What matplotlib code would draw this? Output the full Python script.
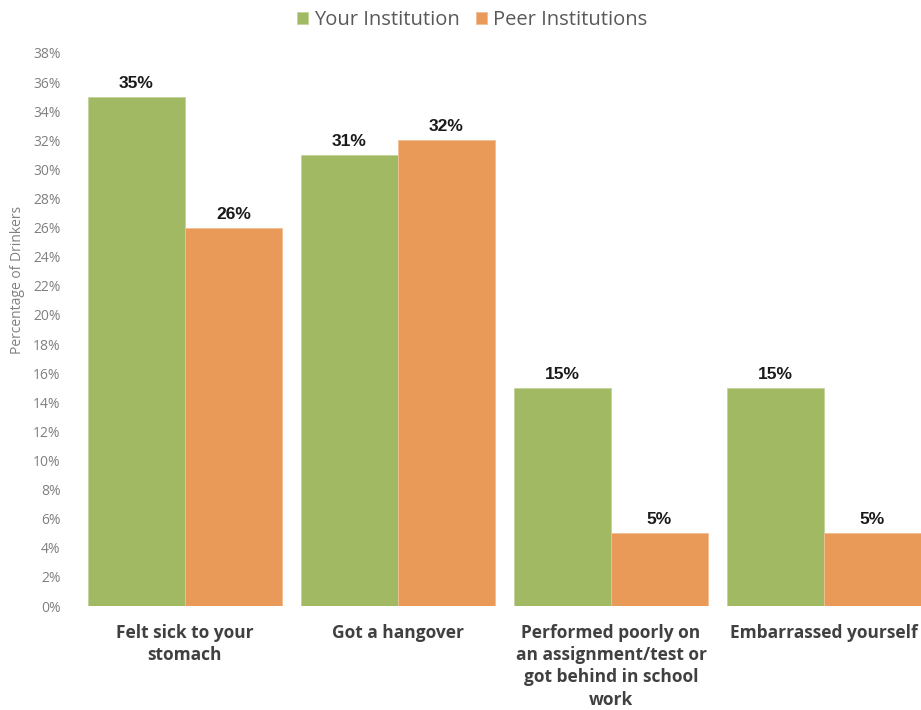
import matplotlib.pyplot as plt
import numpy as np

categories = [
    "Felt sick to your\nstomach",
    "Got a hangover",
    "Performed poorly on\nan assignment/test or\ngot behind in school\nwork",
    "Embarrassed yourself",
]
your_institution = [35, 31, 15, 15]
peer_institutions = [26, 32, 5, 5]
series_names = ["Your Institution", "Peer Institutions"]
y_ticks = list(range(0, 39, 2))

GREEN = "#A2B964"
ORANGE = "#EA9A58"
TICK_GRAY = "#808080"
LABEL_DARK = "#404040"

W, H = 921, 710
fig = plt.figure(figsize=(W / 100, H / 100), dpi=100)

# plot area in pixels: x from group edge at 78.5, y from 0% (606) to 38% (53)
left_px, right_px = 78.5, 930.5
bottom_px, top_px = 606, 53
ax = fig.add_axes([left_px / W, 1 - bottom_px / H,
                   (right_px - left_px) / W, (bottom_px - top_px) / H])

x = np.arange(len(categories))
bw = 97 / 213
b1 = ax.bar(x - bw / 2, your_institution, bw, color=GREEN,
            edgecolor="#C4D39A", linewidth=0.6, label=series_names[0])
b2 = ax.bar(x + bw / 2, peer_institutions, bw, color=ORANGE,
            edgecolor="#F2BE94", linewidth=0.6, label=series_names[1])

for bars, vals in ((b1, your_institution), (b2, peer_institutions)):
    for rect, v in zip(bars, vals):
        ax.text(rect.get_x() + rect.get_width() / 2, v + 0.4, f"{v}%",
                ha="center", va="bottom", fontsize=12.5, fontweight="bold",
                family="Liberation Sans", color="#1A1A1A")

ax.set_xlim(-0.5, 3.5)
ax.set_ylim(0, 38)
ax.set_yticks(y_ticks)
ax.set_yticklabels([f"{t}%" for t in y_ticks], family="Open Sans",
                   fontsize=10, color=TICK_GRAY)
ax.tick_params(axis="y", length=0, pad=13)
ax.set_xticks(x)
ax.set_xticklabels(categories, family="Open Sans", fontweight="bold",
                   fontsize=12.5, color=LABEL_DARK, linespacing=1.3, va="top")
ax.tick_params(axis="x", length=0, pad=13)
ax.set_ylabel("Percentage of Drinkers", family="Open Sans", fontsize=10,
              color=TICK_GRAY)
ax.yaxis.set_label_coords(-0.063, (606 - 280) / (606 - 53))
for s in ax.spines.values():
    s.set_visible(False)

leg = fig.legend(handles=[b1, b2], labels=series_names, loc="center",
                 bbox_to_anchor=(472 / W, 1 - 20 / H), ncol=2, frameon=False,
                 prop={"family": "Open Sans", "size": 14.5},
                 handlelength=0.55, handleheight=0.55, handletextpad=0.3,
                 columnspacing=0.8)
for t in leg.get_texts():
    t.set_color("#595959")

fig.savefig("out.png", dpi=100)
